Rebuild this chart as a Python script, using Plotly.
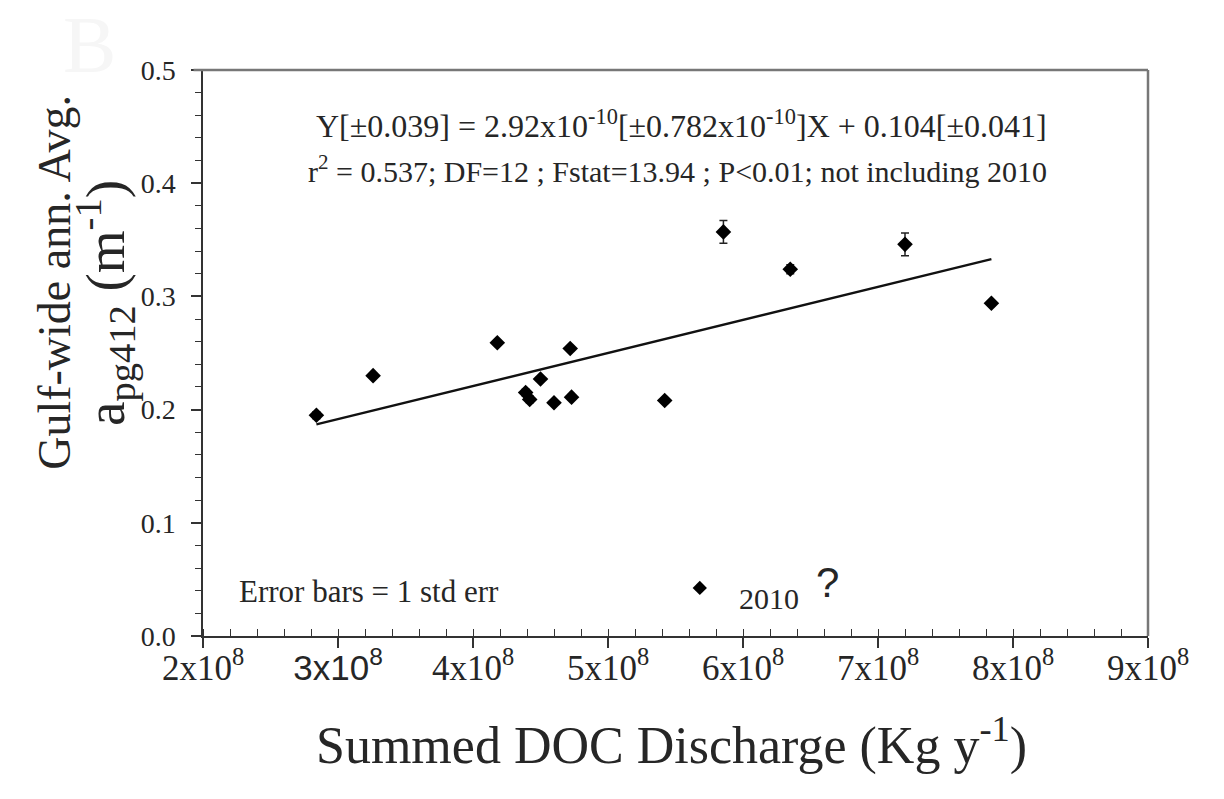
import plotly.graph_objects as go

# Summed DOC discharge (kg/yr) vs Gulf-wide annual average a_pg412 (1/m)
doc = [2.84e8, 3.26e8, 4.18e8, 4.39e8, 4.42e8, 4.50e8, 4.60e8, 4.72e8,
       4.73e8, 5.42e8, 5.855e8, 6.35e8, 7.20e8, 7.84e8]
apg = [0.195, 0.230, 0.259, 0.215, 0.209, 0.227, 0.206, 0.254,
       0.211, 0.208, 0.357, 0.324, 0.346, 0.294]
apg_se = [0.003, 0.002, 0.002, 0.003, 0.003, 0.002, 0.002, 0.002,
          0.002, 0.002, 0.010, 0.004, 0.010, 0.002]

# 2010 year, excluded from the regression
doc_2010 = [5.68e8]
apg_2010 = [0.0425]

# regression coefficients
slope = 2.92e-10
intercept = 0.104

x_tickvals = [2e8, 3e8, 4e8, 5e8, 6e8, 7e8, 8e8, 9e8]
x_ticktext = ["2x10<sup>8</sup>",
              "<span style='font-family:Liberation Sans'>3x10<sup>8</sup></span>",
              "4x10<sup>8</sup>", "5x10<sup>8</sup>", "6x10<sup>8</sup>",
              "7x10<sup>8</sup>", "8x10<sup>8</sup>", "9x10<sup>8</sup>"]
y_tickvals = [0.0, 0.1, 0.2, 0.3, 0.4, 0.5]
y_ticktext = ["0.0", "0.1", "0.2", "0.3", "0.4", "0.5"]

SERIF = "Liberation Serif"
TXT = "#262626"

fit_x = [min(doc), max(doc)]
fit_y = [slope * v + intercept for v in fit_x]

fig = go.Figure()
fig.add_trace(go.Scatter(x=fit_x, y=fit_y, mode="lines",
                         line=dict(color="#111", width=2.4), hoverinfo="skip"))
fig.add_trace(go.Scatter(
    x=doc, y=apg, mode="markers",
    marker=dict(symbol="diamond", size=12, color="black"),
    error_y=dict(type="data", array=apg_se, visible=True,
                 color="#222", thickness=1.5, width=4)))
fig.add_trace(go.Scatter(x=doc_2010, y=apg_2010, mode="markers",
                         marker=dict(symbol="diamond", size=11, color="black")))

axis_common = dict(showgrid=False, zeroline=False, showline=True, mirror=False,
                   linecolor="#333", linewidth=1.5, tickcolor="#333")

fig.update_layout(
    width=1224, height=799,
    margin=dict(l=203, r=76, t=70, b=163),
    paper_bgcolor="white", plot_bgcolor="white",
    showlegend=False,
    xaxis=dict(range=[2e8, 9e8], tickvals=x_tickvals, ticktext=x_ticktext,
               ticks="outside", ticklen=10, tickwidth=1.5,
               minor=dict(dtick=0.2e8, ticks="inside", ticklen=7,
                          tickwidth=1.2, tickcolor="#333"),
               ticklabelstandoff=-10,
               tickfont=dict(family=SERIF, color=TXT, size=35),
               **axis_common),
    yaxis=dict(range=[0, 0.5], tickvals=y_tickvals, ticktext=y_ticktext,
               ticks="outside", ticklen=10, tickwidth=1.5,
               minor=dict(dtick=0.02, ticks="outside", ticklen=6,
                          tickwidth=1.2, tickcolor="#333"),
               ticklabelstandoff=10,
               tickfont=dict(family=SERIF, color=TXT, size=28),
               **axis_common),
    # inner upward half of the crossing major x ticks
    xaxis2=dict(overlaying="x", range=[2e8, 9e8], tickvals=x_tickvals,
                ticks="inside", ticklen=8, tickwidth=1.5, tickcolor="#333",
                showticklabels=False, showgrid=False, zeroline=False,
                showline=False, side="bottom"),
)

# frame on top and right
fig.add_shape(type="line", xref="paper", yref="paper", x0=-0.01, x1=1, y0=1, y1=1,
              line=dict(color="#777", width=2.5))
fig.add_shape(type="line", xref="paper", yref="paper", x0=1, x1=1, y0=0, y1=1,
              line=dict(color="#777", width=2.5))

ann = []
ann.append(dict(text="Y[±0.039] = 2.92x10<sup>-10</sup>[±0.782x10<sup>-10</sup>]X + 0.104[±0.041]",
                x=0.506, y=0.905, font=dict(size=32)))
ann.append(dict(text="r<sup>2</sup> = 0.537; DF=12 ; Fstat=13.94 ; P<0.01; not including 2010",
                x=0.502, y=0.825, font=dict(size=30)))
ann.append(dict(text="Error bars = 1 std err", x=0.036, y=0.078, xanchor="left",
                font=dict(size=31)))
ann.append(dict(text="2010", x=0.565, y=0.067, xanchor="left", font=dict(size=30)))
ann.append(dict(text="?", x=0.661, y=0.095, font=dict(size=42, family="Liberation Sans")))
ann.append(dict(text="Summed DOC Discharge (Kg y<sup>-1</sup>)", x=0.496, y=-0.187,
                font=dict(size=52)))
ann.append(dict(text="Gulf-wide ann. Avg.", x=-0.1566, y=0.624, textangle=-90,
                font=dict(size=46)))
ann.append(dict(text="a<sub>pg412</sub> (m<sup>-1</sup>)", x=-0.104, y=0.588, textangle=-90,
                font=dict(size=55)))
ann.append(dict(text="B", x=-0.12, y=1.045, font=dict(size=80, color="#f6f6f6")))

for a in ann:
    f = dict(family=SERIF, color=TXT)
    f.update(a.pop("font", {}))
    fig.add_annotation(xref="paper", yref="paper", showarrow=False,
                       xanchor=a.pop("xanchor", "center"), yanchor="middle",
                       font=f, **a)

fig.write_html("out.html")
